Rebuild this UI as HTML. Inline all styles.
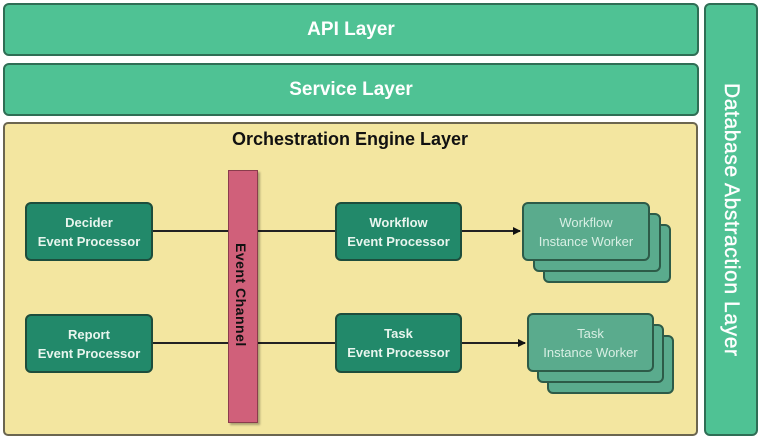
<!DOCTYPE html>
<html><head><style>
body{margin:0;width:760px;height:440px;background:#fff;position:relative;overflow:hidden;font-family:"Liberation Sans",sans-serif}
.a{position:absolute;box-sizing:border-box}
.layer{background:#4fc294;border:2px solid #2f6e55;border-radius:6px;color:#fff;font-weight:bold;font-size:19px;display:flex;align-items:center;justify-content:center}
.b{background:#22896a;border:2px solid #1d4d3c;border-radius:6px;color:#e8f5ee;font-weight:bold;font-size:13px;text-align:center;line-height:19px;display:flex;align-items:center;justify-content:center}
.w{background:#5aab8d;border:2px solid #2d5b48;border-radius:6px;color:#d8efe4;font-size:13px;text-align:center;line-height:19px;display:flex;align-items:center;justify-content:center}
</style></head><body>
<div class="a layer" style="left:3px;top:3px;width:696px;height:53px">API Layer</div>
<div class="a layer" style="left:3px;top:63px;width:696px;height:53px">Service Layer</div>
<div class="a layer" style="left:704px;top:3px;width:54px;height:433px"><span style="writing-mode:vertical-rl;font-size:21px;letter-spacing:0.6px;font-weight:normal;-webkit-text-stroke:0.4px #fff">Database Abstraction Layer</span></div>
<div class="a" style="left:3px;top:122px;width:695px;height:314px;background:#f3e6a0;border:2px solid #6b6650;border-radius:5px"></div>
<div class="a" style="left:0;top:129px;width:700px;text-align:center;font-weight:bold;font-size:18px;color:#111">Orchestration Engine Layer</div>
<svg class="a" style="left:0;top:0" width="760" height="440">
<defs><marker id="m" markerWidth="8" markerHeight="8" refX="7" refY="4" orient="auto" markerUnits="userSpaceOnUse"><path d="M0,0L8,4L0,8z" fill="#111"/></marker></defs>
<g stroke="#222" stroke-width="2">
<line x1="152" y1="231" x2="335" y2="231"/><line x1="152" y1="343" x2="335" y2="343"/>
<line x1="461" y1="231" x2="520" y2="231" marker-end="url(#m)"/><line x1="461" y1="343" x2="525" y2="343" marker-end="url(#m)"/>
</g></svg>
<div class="a" style="left:228px;top:170px;width:30px;height:253px;background:#d0607a;border:1px solid #8a3c4c;box-shadow:2px 2px 2px rgba(0,0,0,.3)"><span style="position:absolute;left:4px;top:72px;writing-mode:vertical-rl;font-weight:bold;font-size:14px;letter-spacing:0.5px;color:#111">Event Channel</span></div>
<div class="a b" style="left:25px;top:202px;width:128px;height:59px">Decider<br>Event Processor</div>
<div class="a b" style="left:25px;top:314px;width:128px;height:59px">Report<br>Event Processor</div>
<div class="a b" style="left:335px;top:202px;width:127px;height:59px">Workflow<br>Event Processor</div>
<div class="a b" style="left:335px;top:313px;width:127px;height:60px">Task<br>Event Processor</div>
<div class="a w" style="left:543px;top:224px;width:128px;height:59px"></div>
<div class="a w" style="left:533px;top:213px;width:128px;height:59px"></div>
<div class="a w" style="left:522px;top:202px;width:128px;height:59px">Workflow<br>Instance Worker</div>
<div class="a w" style="left:547px;top:335px;width:127px;height:59px"></div>
<div class="a w" style="left:537px;top:324px;width:127px;height:59px"></div>
<div class="a w" style="left:527px;top:313px;width:127px;height:59px">Task<br>Instance Worker</div>
</body></html>
